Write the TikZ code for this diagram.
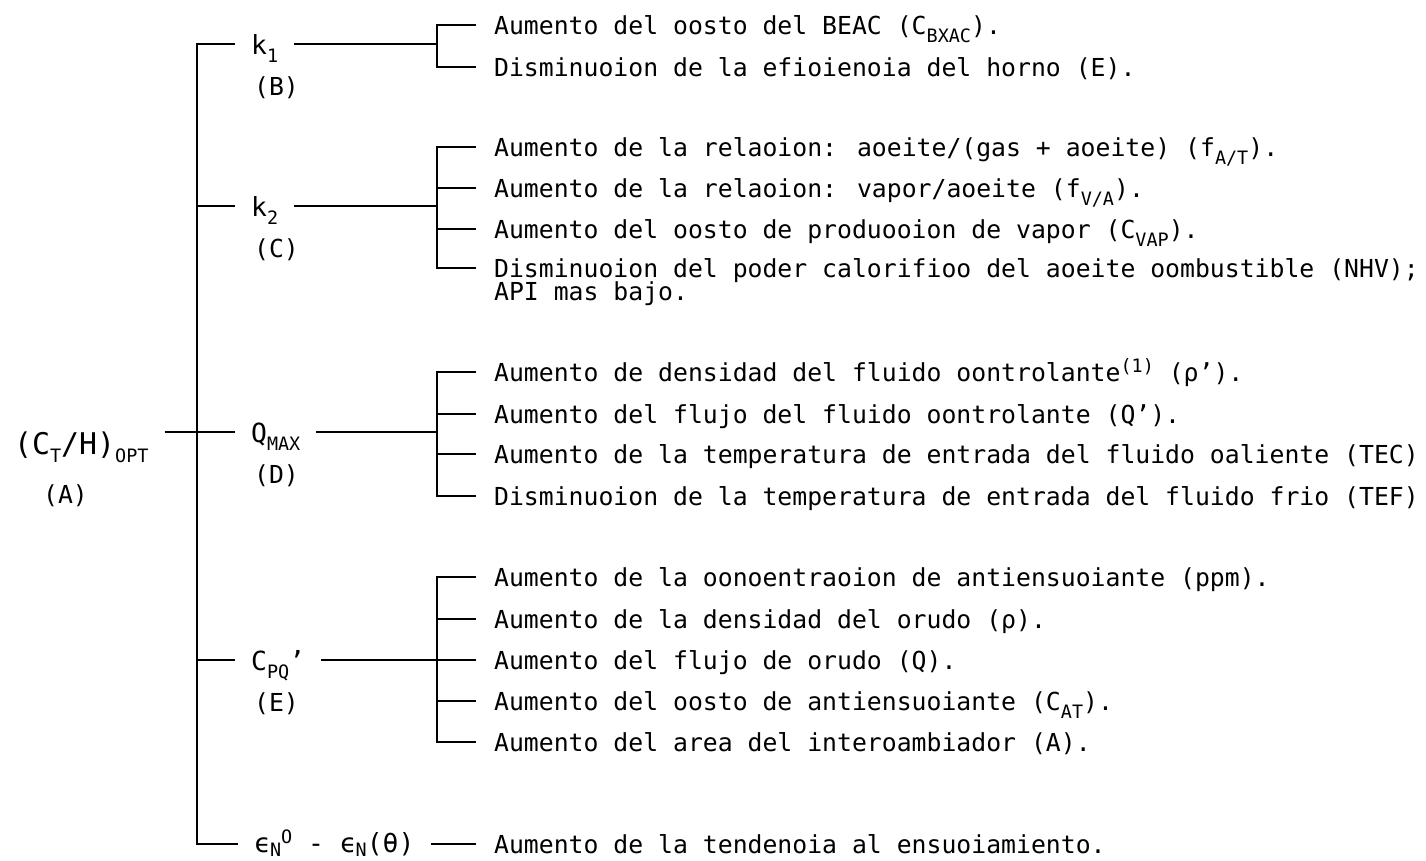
\documentclass[tikz,border=0pt]{standalone}
\usepackage{fontspec}
\setmainfont{DejaVu Sans Mono}
\usetikzlibrary{positioning}
\newcommand{\lw}[2][-4.5pt]{\raisebox{#1}{\fontsize{10.5}{11}\selectfont #2}}
\newcommand{\hg}[1]{\raisebox{5pt}{\fontsize{10.5}{11}\selectfont #1}}

\begin{document}
\begin{tikzpicture}
[
x=0.02cm, y=-0.02cm,
line width=1.3pt,
root-a/.style={anchor=north west, inner xsep=0.3cm, inner ysep=0pt, text height=12pt, text depth=4pt, font=\fontsize{17}{19}\selectfont},
factor-a/.style={anchor=west, inner xsep=0.3cm, inner ysep=0pt, text height=13pt, text depth=0.5pt, font=\fontsize{15}{17}\selectfont},
factor-b/.style={factor-a, text height=10pt, text depth=0.9pt},
tag-a/.style={inner sep=0pt, font=\fontsize{14.1}{16}\selectfont},
leaf-a/.style={anchor=west, inner xsep=0.34cm, inner ysep=0pt, text height=12.5pt, text depth=1.5pt, font=\fontsize{14.1}{16}\selectfont}
]
\useasboundingbox (0,0) rectangle (1426,860);
% root and first level
\node (root)   [root-a]   at (-2,432)  {(C\lw{T}/H)\lw{OPT}};
\node (tag-r)  [tag-a, below right = 4.2mm and 8.8mm of root.south west] {(A)};
\node (k1)     [factor-a] at (235,44)  {k\lw{1}};
\node (tag-k1) [tag-a, below right = 3.8mm and 3.6mm of k1.south west]   {(B)};
\node (k2)     [factor-a] at (235,206) {k\lw{2}};
\node (tag-k2) [tag-a, below right = 3.8mm and 3.6mm of k2.south west]   {(C)};
\node (qmax)   [factor-a] at (235,432) {Q\lw{MAX}};
\node (tag-qm) [tag-a, below right = 3.8mm and 3.6mm of qmax.south west] {(D)};
\node (cpq)    [factor-a] at (235,660) {C\lw{PQ}'};
\node (tag-cp) [tag-a, below right = 3.8mm and 3.6mm of cpq.south west]  {(E)};
\node (eps)    [factor-b] at (238,844) {ϵ\lw[-2.5pt]{N}\hg{O} - ϵ\lw[-2.5pt]{N}(θ)};
% second level
\node (i11) [leaf-a] at (476,25)  {Aumento del oosto del BEAC (C\lw{BXAC}).};
\node (i12) [leaf-a] at (476,67)  {Disminuoion de la efioienoia del horno (E).};
\node (i21) [leaf-a] at (476,147) {Aumento de la relaoion: aoeite/(gas + aoeite) (f\lw{A/T}).};
\node (i22) [leaf-a] at (476,188) {Aumento de la relaoion: vapor/aoeite (f\lw{V/A}).};
\node (i23) [leaf-a] at (476,229) {Aumento del oosto de produooion de vapor (C\lw{VAP}).};
\node (i24) [leaf-a] at (476,268) {Disminuoion del poder calorifioo del aoeite oombustible (NHV);};
\node (i24-b) [leaf-a, below right = -0.8mm and 0mm of i24.south west] {API mas bajo.};
\node (i31) [leaf-a] at (476,372) {Aumento de densidad del fluido oontrolante\hg{(1)} (ρ').};
\node (i32) [leaf-a] at (476,414) {Aumento del flujo del fluido oontrolante (Q').};
\node (i33) [leaf-a] at (476,454) {Aumento de la temperatura de entrada del fluido oaliente (TEC)};
\node (i34) [leaf-a] at (476,496) {Disminuoion de la temperatura de entrada del fluido frio (TEF)};
\node (i41) [leaf-a] at (476,577) {Aumento de la oonoentraoion de antiensuoiante (ppm).};
\node (i42) [leaf-a] at (476,619) {Aumento de la densidad del orudo (ρ).};
\node (i43) [leaf-a] at (476,660) {Aumento del flujo de orudo (Q).};
\node (i44) [leaf-a] at (476,701) {Aumento del oosto de antiensuoiante (C\lw{AT}).};
\node (i45) [leaf-a] at (476,742) {Aumento del area del interoambiador (A).};
\node (i51) [leaf-a] at (476,844) {Aumento de la tendenoia al ensuoiamiento.};
% spine and junctions
\coordinate (s-top) at (197,44);
\coordinate (s-bot) at (197,844);
\coordinate (j-k1) at (437,44);
\coordinate (j-k2) at (437,206);
\coordinate (j-qm) at (437,432);
\coordinate (j-cp) at (437,660);
\draw (k1) -- (s-top) -- (s-bot) -- (eps);
\draw (s-top |- k2) -- (k2);
\draw (root.north east) -- (qmax);
\draw (s-top |- cpq) -- (cpq);
% brackets
\draw (k1) -- (j-k1);
\draw (i11) -| (j-k1) |- (i12);
\draw (k2) -- (j-k2);
\draw (i21) -| (j-k2) |- (i24);
\draw (j-k2) |- (i22);
\draw (j-k2) |- (i23);
\draw (qmax) -- (j-qm);
\draw (i31) -| (j-qm) |- (i34);
\draw (j-qm) |- (i32);
\draw (j-qm) |- (i33);
\draw (cpq) -- (j-cp);
\draw (i41) -| (j-cp) |- (i45);
\draw (j-cp) |- (i42);
\draw (j-cp) -- (i43);
\draw (j-cp) |- (i44);
\draw (eps) -- (i51);
\end{tikzpicture}
\end{document}
